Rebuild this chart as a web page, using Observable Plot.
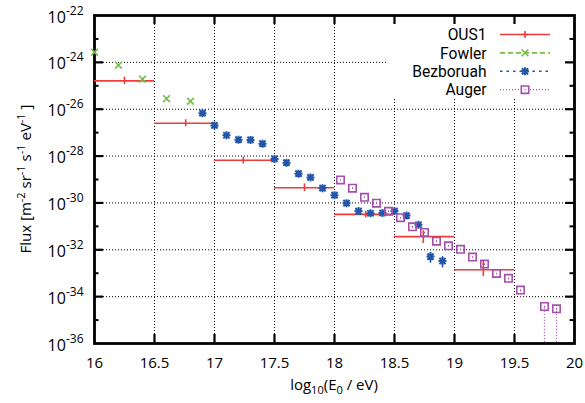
<!DOCTYPE html>
<html>
<head>
<meta charset="utf-8">
<script src="https://cdn.jsdelivr.net/npm/d3@7"></script>
<script src="https://cdn.jsdelivr.net/npm/@observablehq/plot@0.6"></script>
<style>
  html, body { margin: 0; padding: 0; background: #fff; }
  #chart svg { display: block; }
</style>
</head>
<body>
<div id="chart"></div>
<script>
// Cosmic-ray flux versus primary energy, log10(E0 / eV) on x, flux on a log axis.

// Axis ticks
const xTicks = [16, 16.5, 17, 17.5, 18, 18.5, 19, 19.5, 20];
const xInnerTicks = [16.5, 17, 17.5, 18, 18.5, 19, 19.5];
const yMajor = [1e-22, 1e-24, 1e-26, 1e-28, 1e-30, 1e-32, 1e-34, 1e-36];
const yGrid = [1e-24, 1e-26, 1e-28, 1e-30, 1e-32, 1e-34];
const yMinor = [1e-23, 1e-25, 1e-27, 1e-29, 1e-31, 1e-33, 1e-35];

// OUS1: binned flux with x range of each bin and y error bar at the mean energy
const ousBinLo = [16.0, 16.5, 17.0, 17.5, 18.0, 18.5, 19.0];
const ousBinHi = [16.5, 17.0, 17.5, 18.0, 18.5, 19.0, 19.5];
const ousMean  = [16.25, 16.76, 17.24, 17.75, 18.26, 18.74, 19.24];
const ousFlux  = [1.62e-25, 2.51e-27, 6.61e-29, 4.47e-30, 3.24e-31, 3.63e-32, 1.41e-33];
const ousLow   = [1.12e-25, 1.78e-27, 4.57e-29, 3.09e-30, 2.29e-31, 1.86e-32, 7.24e-34];
const ousHigh  = [2.34e-25, 3.55e-27, 8.91e-29, 6.46e-30, 4.37e-31, 6.46e-32, 3.39e-33];

// Fowler
const fowlerE    = [16.0, 16.2, 16.4, 16.6, 16.8];
const fowlerFlux = [2.69e-24, 7.59e-25, 1.91e-25, 2.82e-26, 2.19e-26];

// Bezboruah
const bezE = [16.9, 17.0, 17.1, 17.2, 17.3, 17.4, 17.5, 17.6, 17.7, 17.8, 17.9,
              18.0, 18.1, 18.2, 18.3, 18.4, 18.5, 18.6, 18.7, 18.8, 18.9];
const bezFlux = [6.76e-27, 2.04e-27, 7.76e-28, 5.01e-28, 4.90e-28, 3.39e-28, 7.59e-29,
                 5.25e-29, 1.78e-29, 1.23e-29, 4.27e-30, 2.14e-30, 9.77e-31, 4.47e-31,
                 3.63e-31, 3.72e-31, 4.47e-31, 2.88e-31, 1.17e-31, 5.13e-33, 3.31e-33];
const bezLow  = [null, null, null, null, null, null, null, null, null, null, null,
                 null, null, null, null, null, null, null, null, 2.63e-33, 1.66e-33];
const bezHigh = [null, null, null, null, null, null, null, null, null, null, null,
                 null, null, null, null, null, null, null, null, 7.80e-33, 5.10e-33];

// Auger
const augerE = [18.05, 18.15, 18.25, 18.35, 18.45, 18.55, 18.65, 18.75, 18.85,
                18.95, 19.05, 19.15, 19.25, 19.35, 19.45, 19.55, 19.75, 19.85];
const augerFlux = [9.55e-30, 4.27e-30, 1.74e-30, 9.77e-31, 4.37e-31, 2.34e-31, 9.55e-32,
                   5.50e-32, 2.34e-32, 1.48e-32, 1.05e-32, 4.90e-33, 2.45e-33, 9.77e-34,
                   6.03e-34, 1.91e-34, 3.80e-35, 3.02e-35];
// lower ends of the error bars; the last two reach below the plotted range
const augerLow = [null, null, null, null, null, null, null, null, null,
                  null, null, null, null, null, null, 8.9e-35, 1e-38, 1e-38];

const seriesNames = ["OUS1", "Fowler", "Bezboruah", "Auger"];
const colors = {OUS1: "#ee3b3b", Fowler: "#72bf44", Bezboruah: "#2456a8", Auger: "#a24fae"};

// Tables
const ous = ousMean.map((e, i) => ({e, lo: ousBinLo[i], hi: ousBinHi[i], flux: ousFlux[i], fLo: ousLow[i], fHi: ousHigh[i]}));
const fowler = fowlerE.map((e, i) => ({e, flux: fowlerFlux[i]}));
const bez = bezE.map((e, i) => ({e, flux: bezFlux[i], fLo: bezLow[i], fHi: bezHigh[i]}));
const auger = augerE.map((e, i) => ({e, flux: augerFlux[i], fLo: augerLow[i]}));

// Point symbols (r is recovered from the area Plot passes in)
const rad = size => Math.sqrt(size / Math.PI);
const plusSym = {draw(c, s) { const r = rad(s); c.moveTo(-r, 0); c.lineTo(r, 0); c.moveTo(0, -r); c.lineTo(0, r); }};
const timesSym = {draw(c, s) { const r = rad(s); c.moveTo(-r, -r); c.lineTo(r, r); c.moveTo(-r, r); c.lineTo(r, -r); }};
const starSym = {draw(c, s) {
  const r = rad(s), q = r * 0.78;
  c.moveTo(-r, 0); c.lineTo(r, 0); c.moveTo(0, -r); c.lineTo(0, r);
  c.moveTo(-q, -q); c.lineTo(q, q); c.moveTo(-q, q); c.lineTo(q, -q);
}};
const squareSym = {draw(c, s) {
  const r = rad(s);
  c.moveTo(-r, -r); c.lineTo(r, -r); c.lineTo(r, r); c.lineTo(-r, r); c.closePath();
  c.moveTo(-0.5, 0); c.lineTo(0.5, 0);
}};

const W = 585, H = 403;
const mL = 94, mR = 11, mT = 15, mB = 60;
const frameW = W - mL - mR, frameH = H - mT - mB;

const plot = Plot.plot({
  width: W, height: H,
  marginLeft: mL, marginRight: mR, marginTop: mT, marginBottom: mB,
  x: {domain: [16, 20]},
  y: {type: "log", domain: [1e-36, 1e-22]},
  style: {fontFamily: "'Open Sans', sans-serif", fontSize: "15px", color: "#000", background: "#fff"},
  marks: [
    Plot.gridX(xInnerTicks, {stroke: "#000", strokeOpacity: 1, strokeWidth: 1, strokeDasharray: "1,2"}),
    Plot.gridY(yGrid, {stroke: "#000", strokeOpacity: 1, strokeWidth: 1, strokeDasharray: "1,2"}),
    Plot.frame({stroke: "#000", strokeWidth: 2.8}),
    // inward ticks on all four sides
    Plot.ruleX(xInnerTicks, {x: d => d, insetTop: frameH - 9, stroke: "#000", strokeWidth: 2.2}),
    Plot.ruleX(xInnerTicks, {x: d => d, insetBottom: frameH - 9, stroke: "#000", strokeWidth: 2.2}),
    Plot.ruleY(yGrid, {y: d => d, insetRight: frameW - 9, stroke: "#000", strokeWidth: 2.2}),
    Plot.ruleY(yGrid, {y: d => d, insetLeft: frameW - 9, stroke: "#000", strokeWidth: 2.2}),
    Plot.ruleY(yMinor, {y: d => d, insetRight: frameW - 4.5, stroke: "#000", strokeWidth: 2}),
    Plot.ruleY(yMinor, {y: d => d, insetLeft: frameW - 4.5, stroke: "#000", strokeWidth: 2}),
    Plot.axisX({ticks: xTicks, tickSize: 0, tickPadding: 13.5, fontSize: 15, label: null, tickFormat: d => String(d)}),
    Plot.axisY({ticks: yMajor, tickSize: 0, tickPadding: 11, fontSize: 16, dy: 2, label: null,
                tickFormat: d => String(Math.round(Math.log10(d)))}),

    // OUS1
    Plot.ruleY(ous, {x1: "lo", x2: "hi", y: "flux", stroke: colors.OUS1, strokeWidth: 1.6}),
    Plot.ruleX(ous, {x: "e", y1: "fLo", y2: "fHi", stroke: colors.OUS1, strokeWidth: 1.6}),

    // Fowler
    Plot.dot(fowler, {x: "e", y: "flux", symbol: timesSym, r: 3.4, stroke: colors.Fowler, strokeWidth: 1.6}),

    // Bezboruah
    Plot.ruleX(bez.filter(d => d.fLo != null), {x: "e", y1: "fLo", y2: "fHi", stroke: colors.Bezboruah, strokeWidth: 1.5}),
    Plot.dot(bez, {x: "e", y: "flux", symbol: starSym, r: 4, stroke: colors.Bezboruah, strokeWidth: 2}),

    // Auger
    Plot.ruleX(auger.filter(d => d.fLo != null), {x: "e", y1: "fLo", y2: "flux", stroke: colors.Auger, strokeWidth: 1.3, strokeDasharray: "1,2", clip: true}),
    Plot.dot(auger, {x: "e", y: "flux", symbol: squareSym, r: 3.7, stroke: colors.Auger, strokeWidth: 1.6, fill: "none"})
  ]
});

const svg = d3.select(plot);

// y tick labels as powers of ten
svg.selectAll('g[aria-label="y-axis tick label"] text').each(function () {
  const exp = this.textContent;
  const t = d3.select(this);
  t.text(null);
  t.append("tspan").text("10");
  t.append("tspan").attr("font-size", 12).attr("dy", -8).text(exp);
});

// axis titles
const xt = svg.append("text")
  .attr("x", mL + frameW / 2).attr("y", 390)
  .attr("text-anchor", "middle").attr("font-size", 15).attr("fill", "#000");
xt.append("tspan").text("log");
xt.append("tspan").attr("font-size", 11).attr("dy", 4).text("10");
xt.append("tspan").attr("dy", -4).text("(E");
xt.append("tspan").attr("font-size", 11).attr("dy", 4).text("0");
xt.append("tspan").attr("dy", -4).text(" / eV)");

const yt = svg.append("text")
  .attr("transform", `translate(31,${mT + frameH / 2}) rotate(-90)`)
  .attr("text-anchor", "middle").attr("font-size", 15).attr("fill", "#000");
const ytParts = [["Flux [m", 0], ["-2", 1], [" sr", 0], ["-1", 1], [" s", 0], ["-1", 1], [" eV", 0], ["-1", 1], [" ]", 0]];
let raised = false;
for (const [str, sup] of ytParts) {
  const sp = yt.append("tspan").text(str);
  if (sup) { sp.attr("font-size", 11).attr("dy", -6); raised = true; }
  else if (raised) { sp.attr("dy", 6); raised = false; }
}

// opaque key box over the grid, then the key entries
const frameRight = mL + frameW, frameTop = mT;
const frameNode = svg.select('[aria-label="frame"]').node();
plot.insertBefore(
  d3.create("svg:rect")
    .attr("x", frameRight - 186).attr("y", frameTop + 1.5)
    .attr("width", 184.5).attr("height", 82)
    .attr("fill", "#fff").node(),
  frameNode
);

const keyStyle = {
  OUS1: {sym: plusSym, r: 3.6, dash: null, sw: 1.6},
  Fowler: {sym: timesSym, r: 3.4, dash: "5,3", sw: 1.6},
  Bezboruah: {sym: starSym, r: 4, dash: "2.5,4", sw: 1.6},
  Auger: {sym: squareSym, r: 3.7, dash: "1,2", sw: 1.3}
};
const rowStep = 18.4;
const rowY = seriesNames.map((_, i) => frameTop + 19.5 + i * rowStep);
const key = svg.append("g").attr("aria-label", "key");
seriesNames.forEach((name, i) => {
  const s = keyStyle[name], y = rowY[i], c = colors[name];
  key.append("text")
    .attr("x", frameRight - 87.5).attr("y", y).attr("dy", "0.36em")
    .attr("text-anchor", "end")
    .attr("font-family", "Roboto, 'Open Sans', sans-serif")
    .attr("font-size", 15.6).attr("fill", "#000")
    .text(name);
  const ln = key.append("line").attr("x1", frameRight - 74).attr("x2", frameRight - 24)
    .attr("y1", y).attr("y2", y).attr("stroke", c).attr("stroke-width", s.sw);
  if (s.dash) ln.attr("stroke-dasharray", s.dash);
  key.append("path")
    .attr("transform", `translate(${frameRight - 49},${y})`)
    .attr("d", d3.symbol().type(s.sym).size(s.r * s.r * Math.PI)())
    .attr("fill", name === "Auger" ? "#fff" : "none")
    .attr("stroke", c).attr("stroke-width", name === "Bezboruah" ? 2 : 1.6);
});

document.getElementById("chart").appendChild(plot);
</script>
</body>
</html>
